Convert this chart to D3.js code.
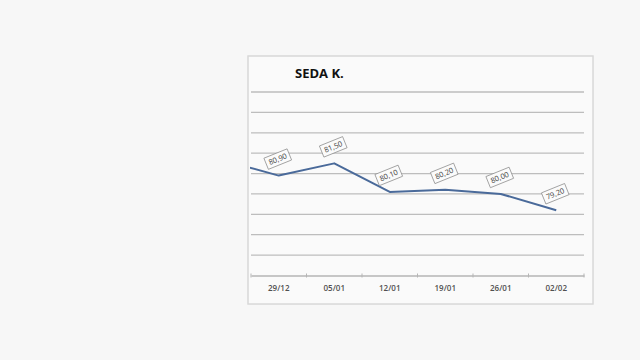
<!DOCTYPE html>
<html>
<head>
<meta charset="utf-8">
<script src="https://cdn.jsdelivr.net/npm/d3@7"></script>
<style>
  html, body { margin: 0; padding: 0; background: #f7f7f7; }
  svg { display: block; }
</style>
</head>
<body>
<svg id="chart" width="640" height="360"></svg>
<script>
// ---- data ----
const title = "SEDA K.";
const categories = ["29/12", "05/01", "12/01", "19/01", "26/01", "02/02"];
const values = [80.90, 81.50, 80.10, 80.20, 80.00, 79.20];
const previousValue = 81.65; // point before the visible range (line enters from the left)
const yTicks = [76, 77, 78, 79, 80, 81, 82, 83, 84, 85];

const svg = d3.select("#chart");

// chart frame
const frame = { x: 248, y: 56, w: 345, h: 248 };
svg.append("rect")
  .attr("x", frame.x).attr("y", frame.y)
  .attr("width", frame.w).attr("height", frame.h)
  .attr("fill", "#fafafa")
  .attr("stroke", "#d8d8d8").attr("stroke-width", 1.5);

const plot = { left: 251, right: 584, top: 92, bottom: 275.5 };

const x = d3.scaleBand().domain(categories).range([plot.left, plot.right]).padding(0);
const y = d3.scaleLinear().domain([76, 85]).range([plot.bottom, plot.top]);
const cx = c => x(c) + x.bandwidth() / 2;

// gridlines
svg.append("g").selectAll("line").data(yTicks.slice(1)).join("line")
  .attr("x1", plot.left).attr("x2", plot.right)
  .attr("y1", d => y(d)).attr("y2", d => y(d))
  .attr("stroke", "#bdbdbd").attr("stroke-width", 1.3);

// x axis
const xAxis = svg.append("g")
  .attr("transform", `translate(0,${y(76)})`)
  .call(d3.axisBottom(x).tickSize(0).tickPadding(10));
xAxis.select(".domain").attr("stroke", "#b5b5b5").attr("stroke-width", 1.3);
xAxis.selectAll("text")
  .attr("font-family", "'Open Sans', 'DejaVu Sans', sans-serif")
  .attr("font-size", 8).attr("font-weight", 600).attr("fill", "#505050");
// category boundary tick marks
const bounds = categories.map(c => x(c)).concat([x(categories[categories.length - 1]) + x.bandwidth()]);
svg.append("g").selectAll("line").data(bounds).join("line")
  .attr("x1", d => d).attr("x2", d => d)
  .attr("y1", y(76) - 2).attr("y2", y(76) + 2)
  .attr("stroke", "#b5b5b5").attr("stroke-width", 1);

// line with clip
svg.append("clipPath").attr("id", "clip")
  .append("rect").attr("x", plot.left - 1).attr("y", plot.top - 10)
  .attr("width", plot.right - plot.left + 2).attr("height", plot.bottom - plot.top + 10);

const pts = [[cx(categories[0]) - x.step(), y(previousValue)]]
  .concat(categories.map((c, i) => [cx(c), y(values[i])]));

svg.append("path")
  .attr("clip-path", "url(#clip)")
  .attr("d", d3.line()(pts))
  .attr("fill", "none")
  .attr("stroke", "#4a6a9a")
  .attr("stroke-width", 2)
  .attr("stroke-linejoin", "round");

// data labels
const fmt = v => v.toFixed(2).replace(".", ",");
const labels = svg.append("g").selectAll("g").data(categories).join("g")
  .attr("transform", (c, i) => `translate(${cx(c) - 1},${y(values[i]) - 16.5}) rotate(-22)`);
labels.append("rect")
  .attr("x", -12.5).attr("y", -6).attr("width", 25).attr("height", 12)
  .attr("fill", "#fbfbfb").attr("stroke", "#8a8a8a").attr("stroke-width", 0.7);
labels.append("text")
  .attr("text-anchor", "middle").attr("dy", "0.35em")
  .attr("font-family", "'Open Sans', 'DejaVu Sans', sans-serif")
  .attr("font-size", 7.5).attr("fill", "#444")
  .text((c, i) => fmt(values[i]));

// title
svg.append("text")
  .attr("x", 295).attr("y", 78)
  .attr("font-family", "'Open Sans', 'DejaVu Sans', sans-serif")
  .attr("font-weight", "bold").attr("font-size", 13).attr("fill", "#111")
  .text(title);
</script>
</body>
</html>
